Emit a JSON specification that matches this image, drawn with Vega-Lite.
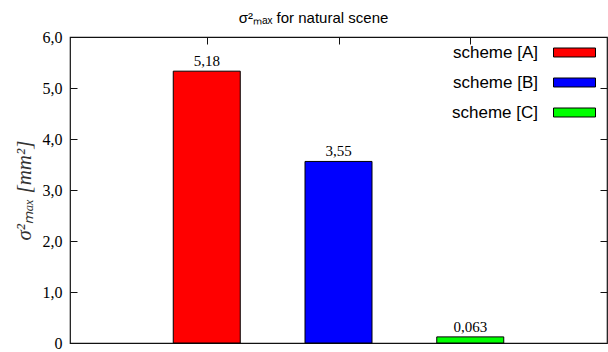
{
  "$schema": "https://vega.github.io/schema/vega-lite/v6.json",
  "width": 537,
  "height": 306,
  "autosize": {"type": "none"},
  "padding": {"left": 70, "top": 37, "right": 1, "bottom": 9},
  "background": "white",
  "title": {
    "text": "σ²ₘₐₓ for natural scene",
    "font": "Liberation Sans",
    "fontSize": 15,
    "fontWeight": "normal",
    "color": "#000",
    "anchor": "middle",
    "frame": "group",
    "dx": -25,
    "baseline": "bottom",
    "offset": -12
  },
  "data": {
    "values": [
      {"scheme": "scheme [A]", "pos": 1, "value": 5.33, "label": "5,18"},
      {"scheme": "scheme [B]", "pos": 2, "value": 3.56, "label": "3,55"},
      {"scheme": "scheme [C]", "pos": 3, "value": 0.12, "label": "0,063"}
    ]
  },
  "config": {
    "view": {"stroke": "#111", "strokeWidth": 1.2},
    "axis": {"grid": false, "domain": false, "tickColor": "#111", "tickWidth": 1}
  },
  "layer": [
    {
      "mark": {"type": "bar", "size": 67, "stroke": "#000", "strokeWidth": 1},
      "encoding": {
        "x": {
          "field": "pos", "type": "quantitative",
          "scale": {"domain": [0, 4], "nice": false},
          "axis": {"orient": "top", "values": [1, 2, 3], "labels": false, "tickSize": -7, "title": null}
        },
        "y": {
          "field": "value", "type": "quantitative",
          "scale": {"domain": [0, 6], "nice": false},
          "axis": {
            "orient": "left",
            "values": [0, 1, 2, 3, 4, 5, 6],
            "tickSize": -7,
            "labelPadding": 15,
            "labelFont": "Liberation Serif",
            "labelFontSize": 16,
            "labelColor": "#000",
            "labelExpr": "datum.value == 0 ? '0' : replace(format(datum.value, '.1f'), '.', ',')",
            "title": "σ²ₘₐₓ [mm²]",
            "titleFont": "Liberation Serif",
            "titleFontStyle": "italic",
            "titleFontWeight": "normal",
            "titleFontSize": 21,
            "titleColor": "#333",
            "titlePadding": 8
          }
        },
        "color": {
          "field": "scheme", "type": "nominal",
          "scale": {"domain": ["scheme [A]", "scheme [B]", "scheme [C]"], "range": ["#ff0000", "#0000ff", "#00ff00"]},
          "legend": {
            "orient": "none",
            "legendX": 483,
            "legendY": -6,
            "title": null,
            "padding": 0,
            "symbolType": "M-1,-0.214H1V0.214H-1Z",
            "symbolSize": 1764,
            "symbolStrokeColor": "#000",
            "symbolStrokeWidth": 1,
            "symbolOpacity": 1,
            "labelFont": "Liberation Sans",
            "labelFontSize": 17,
            "labelColor": "#000",
            "labelAlign": "right",
            "labelOffset": -58,
            "rowPadding": -13,
            "labelLimit": 200
          }
        }
      }
    },
    {
      "mark": {"type": "text", "font": "Liberation Serif", "fontSize": 15, "color": "#000", "baseline": "bottom", "dy": -2},
      "encoding": {
        "x": {"field": "pos", "type": "quantitative"},
        "y": {"field": "value", "type": "quantitative", "axis": {"orient": "right", "values": [1, 2, 3, 4, 5], "labels": false, "tickSize": -7, "title": null}},
        "text": {"field": "label"}
      }
    }
  ],
  "resolve": {"axis": {"y": "independent"}}
}
